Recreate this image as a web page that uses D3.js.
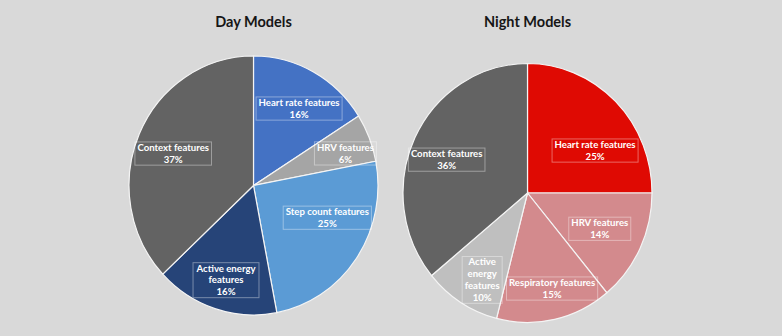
<!DOCTYPE html>
<html>
<head>
<meta charset="utf-8">
<script src="https://cdn.jsdelivr.net/npm/d3@7"></script>
<style>
  html, body { margin: 0; padding: 0; background: #d9d9d9; }
  svg { display: block; }
</style>
</head>
<body>
<svg id="chart" width="782" height="336"></svg>
<script>
// Share of features used by each model group (percent)
const dayCategories = ["Heart rate features", "HRV features", "Step count features", "Active energy features", "Context features"];
const dayValues = [16, 6, 25, 16, 37];
const dayColors = ["#4472c4", "#a5a5a5", "#5b9bd5", "#264478", "#636363"];
const dayLabelLines = [["Heart rate features"], ["HRV features"], ["Step count features"], ["Active energy", "features"], ["Context features"]];

const nightCategories = ["Heart rate features", "HRV features", "Respiratory features", "Active energy features", "Context features"];
const nightValues = [25, 14, 15, 10, 36];
const nightColors = ["#df0a03", "#d38a8d", "#d38a8d", "#bfbfbf", "#636363"];
const nightLabelLines = [["Heart rate features"], ["HRV features"], ["Respiratory features"], ["Active", "energy", "features"], ["Context features"]];

// Label placement inside each slice: radius (px) and angular nudge (degrees)
const dayLabelRadius = [87, 97, 80, 95, 86];
const dayLabelNudge = [2.8, 3, -11.5, -1.2, -2.4];
const nightLabelRadius = [79, 80, 95, 95, 87];
const nightLabelNudge = [13.8, 0.2, -2.4, -3.9, -3.5];

const svg = d3.select("#chart");
const R = 124.5;      // horizontal radius
const SY = 1.04;      // vertical stretch of the pies

function drawPie(cfg) {
  const g = svg.append("g").attr("transform", `translate(${cfg.cx},${cfg.cy})`);

  g.append("text")
    .attr("x", 0).attr("y", cfg.titleY - cfg.cy)
    .attr("text-anchor", "middle")
    .attr("font-family", "Lato, 'Open Sans', sans-serif")
    .attr("font-weight", 700)
    .attr("font-size", 14.5)
    .attr("fill", "#161616")
    .text(cfg.title);

  const pie = d3.pie().sort(null).value(d => d)(cfg.values);
  const arc = d3.arc().innerRadius(0).outerRadius(R);

  const slices = g.append("g").attr("transform", `scale(1,${SY})`);
  slices.selectAll("path")
    .data(pie)
    .join("path")
    .attr("d", arc)
    .attr("fill", (d, i) => cfg.colors[i])
    .attr("stroke", "#f4f4f4")
    .attr("stroke-width", 1.2)
    .attr("vector-effect", "non-scaling-stroke");

  const fs = 9.6, lh = 11.8;
  pie.forEach((d, i) => {
    const a = (d.startAngle + d.endAngle) / 2 + cfg.nudge[i] * Math.PI / 180;
    const r = cfg.radius[i];
    const x = Math.sin(a) * r;
    const y = -Math.cos(a) * r * SY;
    const lines = cfg.lines[i].concat([Math.round(d.value) + "%"]);
    const lg = g.append("g");
    const t = lg.append("text")
      .attr("text-anchor", "middle")
      .attr("font-family", "Lato, 'Open Sans', sans-serif")
      .attr("font-weight", 700)
      .attr("font-size", fs)
      .attr("fill", "#ffffff");
    const top = y - (lines.length - 1) * lh / 2;
    lines.forEach((s, k) => {
      t.append("tspan").attr("x", x).attr("y", top + k * lh).attr("dy", "0.35em").text(s);
    });
    const bb = t.node().getBBox();
    lg.insert("rect", "text")
      .attr("x", bb.x - 2.5).attr("y", top - 5.6)
      .attr("width", bb.width + 5).attr("height", (lines.length - 1) * lh + 11.4)
      .attr("fill", "none")
      .attr("stroke", "rgba(255,255,255,0.38)")
      .attr("stroke-width", 1);
  });
}

drawPie({ cx: 253.5, cy: 185.5, titleY: 27, title: "Day Models",
  values: dayValues, colors: dayColors, lines: dayLabelLines,
  radius: dayLabelRadius, nudge: dayLabelNudge });

drawPie({ cx: 527.5, cy: 193, titleY: 27, title: "Night Models",
  values: nightValues, colors: nightColors, lines: nightLabelLines,
  radius: nightLabelRadius, nudge: nightLabelNudge });
</script>
</body>
</html>
